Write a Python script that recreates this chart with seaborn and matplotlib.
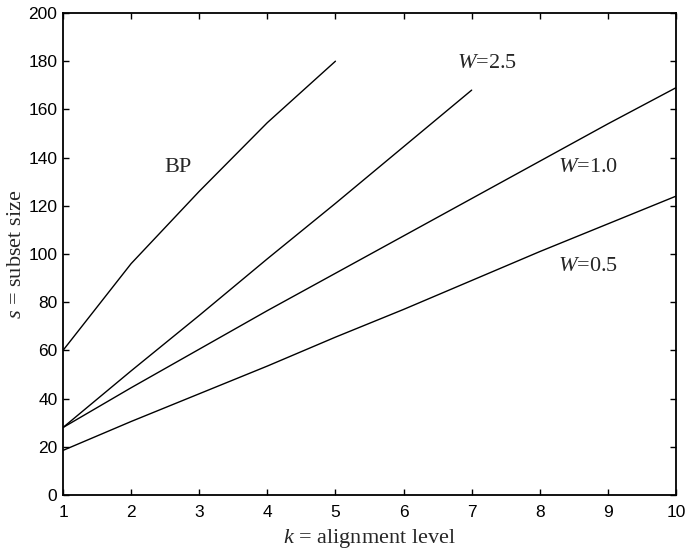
import numpy as np
import pandas as pd
import matplotlib
matplotlib.use("Agg")
import matplotlib.pyplot as plt
import seaborn as sns

# values
k_bp = [1, 2, 3, 4, 5]
s_bp = [60, 96, 126, 154.5, 180]
k_w25 = [1, 2, 3, 4, 5, 6, 7]
s_w25 = [28, 51.5, 74.5, 98, 121, 144.5, 168]
k_w10 = [1, 2, 3, 4, 5, 6, 7, 8, 9, 10]
s_w10 = [28, 44.5, 60.5, 76.5, 92, 107.5, 123, 138.5, 154, 169]
k_w05 = [1, 2, 3, 4, 5, 6, 7, 8, 9, 10]
s_w05 = [18.5, 30.5, 42, 53.5, 65.5, 77, 89, 101, 112.5, 124]

x_ticks = [1, 2, 3, 4, 5, 6, 7, 8, 9, 10]
y_ticks = [0, 20, 40, 60, 80, 100, 120, 140, 160, 180, 200]

df = pd.concat([
    pd.DataFrame({'k': k_bp, 's': s_bp, 'curve': 'BP'}),
    pd.DataFrame({'k': k_w25, 's': s_w25, 'curve': 'W=2.5'}),
    pd.DataFrame({'k': k_w10, 's': s_w10, 'curve': 'W=1.0'}),
    pd.DataFrame({'k': k_w05, 's': s_w05, 'curve': 'W=0.5'}),
])

sns.set_style("ticks")
plt.rcParams['font.family'] = ['Liberation Sans', 'DejaVu Sans']
plt.rcParams['mathtext.fontset'] = 'custom'
plt.rcParams['mathtext.it'] = 'Liberation Serif:italic'
plt.rcParams['mathtext.rm'] = 'Liberation Serif'

fig = plt.figure(figsize=(6.93, 5.5), dpi=100)
ax = fig.add_axes([63 / 693, 55 / 550, 613 / 693, 482 / 550])

sns.lineplot(data=df, x='k', y='s', units='curve', estimator=None,
             color='black', linewidth=1.0, ax=ax, legend=False)

ax.set_xlim(1, 10)
ax.set_ylim(0, 200)
ax.set_xticks(x_ticks)
ax.set_yticks(y_ticks)
ax.tick_params(direction='in', top=True, right=True, length=4.5, width=1.0,
               labelsize=12.5, colors='black')
ax.tick_params(axis='x', pad=7)
ax.tick_params(axis='y', pad=4)
for sp in ax.spines.values():
    sp.set_linewidth(1.3)
    sp.set_color('black')

serif = ['Liberation Serif', 'DejaVu Serif']
ax.set_xlabel(r'$k$ = alignment level', family=serif, fontsize=16, labelpad=5)
ax.set_ylabel(r'$s$ = subset size', family=serif, fontsize=16, labelpad=2)

ax.text(2.69, 135.7, 'BP', family=serif, fontsize=16, ha='center', va='center')
ax.text(7.22, 179, r'$W$=2.5', family=serif, fontsize=16, ha='center', va='center')
ax.text(8.71, 136, r'$W$=1.0', family=serif, fontsize=16, ha='center', va='center')
ax.text(8.71, 94.7, r'$W$=0.5', family=serif, fontsize=16, ha='center', va='center')

fig.savefig('out.png', dpi=100)
